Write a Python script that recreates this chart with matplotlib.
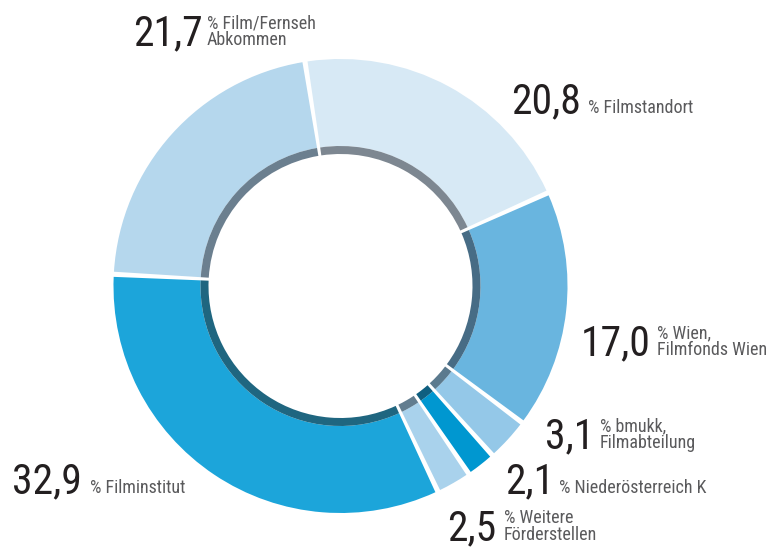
import matplotlib
matplotlib.use("Agg")
import matplotlib.pyplot as plt
from matplotlib.patches import Wedge

# slices, clockwise from the top
labels = ["Filmstandort", "Wien", "bmukk", "Niederösterreich", "Weitere", "Filminstitut", "Film/Fernseh"]
values = [20.8, 17.0, 3.1, 2.1, 2.5, 32.9, 21.7]
outer_colors = ["#d7e9f5", "#69b5df", "#94c8e8", "#0097d0", "#a9d2ec", "#1ca5da", "#b5d7ed"]
band_colors = ["#7d8791", "#476c85", "#5b7a8e", "#0f5f80", "#627d8f", "#1f6680", "#6b7f8f"]

number_texts = ["20,8", "17,0", "3,1", "2,1", "2,5", "32,9", "21,7"]
caption_texts = [
    ["% Filmstandort"],
    ["% Wien,", "Filmfonds Wien"],
    ["% bmukk,", "Filmabteilung"],
    ["% Niederösterreich K"],
    ["% Weitere", "Förderstellen"],
    ["% Filminstitut"],
    ["% Film/Fernseh", "Abkommen"],
]

W, H = 778, 549
fig = plt.figure(figsize=(W / 100, H / 100), dpi=100)
ax = fig.add_axes([0, 0, 1, 1])
ax.set_xlim(0, W)
ax.set_ylim(H, 0)
ax.set_aspect("equal")
ax.axis("off")

center = (340.5, 286)
r_outer, r_band, r_hole = 227, 140, 132
start = 99.0
gap = 1.3

total = sum(values)
angle = start
for v, oc, bc in zip(values, outer_colors, band_colors):
    sweep = v / total * 360
    a_end = angle
    a_start = angle - sweep
    # y axis is inverted, so flip the angles
    t1, t2 = -(a_end - gap / 2), -(a_start + gap / 2)
    ax.add_patch(Wedge(center, r_outer, t1, t2, width=r_outer - r_band, facecolor=oc, edgecolor="none"))
    ax.add_patch(Wedge(center, r_band, t1, t2, width=r_band - r_hole, facecolor=bc, edgecolor="none"))
    angle = a_start

# label anchors: (number right edge, caption left, baseline)
anchors = [(581, 588, 113), (651, 657, 355), (594, 600, 448), (554, 559, 493),
           (496, 504, 540), (82, 90, 493), (203, 207, 45)]

fonts = ["Roboto Condensed", "DejaVu Sans"]
num_font = dict(family=fonts, color="#231f20", fontsize=30)
cap_font = dict(family=fonts, color="#5a5a5c", fontsize=13)
for num, caps, (xn, xc, yb) in zip(number_texts, caption_texts, anchors):
    ax.text(xn, yb, num, ha="right", va="baseline", **num_font)
    for i, line in enumerate(reversed(caps)):
        ax.text(xc, yb - i * 17, line, ha="left", va="baseline", **cap_font)

fig.savefig("out.png", dpi=100)
